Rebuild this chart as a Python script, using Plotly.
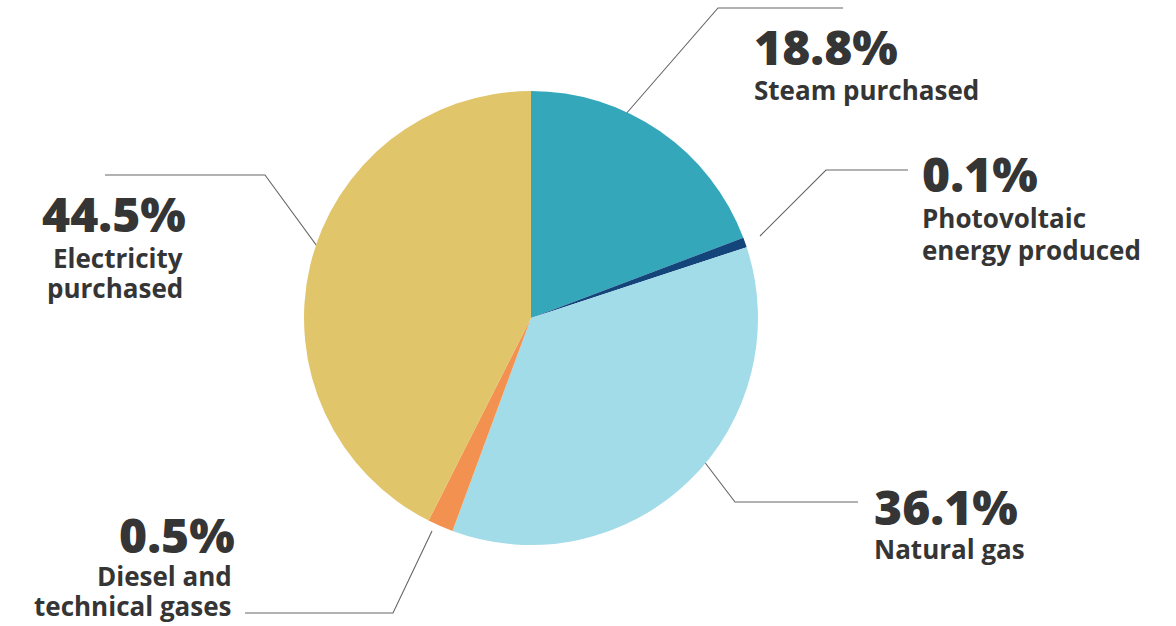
import plotly.graph_objects as go

# ---- data ----
categories = ["Steam purchased", "Photovoltaic energy produced", "Natural gas",
              "Diesel and technical gases", "Electricity purchased"]
label_lines = [["Steam purchased"], ["Photovoltaic", "energy produced"], ["Natural gas"],
               ["Diesel and", "technical gases"], ["Electricity", "purchased"]]
reported_pct = ["18.8%", "0.1%", "36.1%", "0.5%", "44.5%"]
# slice sizes as drawn in the picture
drawn_share = [19.25, 0.7, 35.67, 1.83, 42.55]
colors = ["#35A7BB", "#13447A", "#A2DCE8", "#F39250", "#E1C56A"]

W, H = 1176, 626
cx, cy, r = 531, 318, 227

fig = go.Figure()
fig.add_trace(go.Pie(
    labels=categories, values=drawn_share, sort=False, direction="clockwise",
    rotation=0, textinfo="none", hoverinfo="label+percent",
    marker=dict(colors=colors, line=dict(width=0)),
    domain=dict(x=[(cx - r) / W, (cx + r) / W], y=[1 - (cy + r) / H, 1 - (cy - r) / H]),
    showlegend=False,
))

# leader lines (layout, pixel coords)
leaders = [
    [(612, 130), (718, 8), (843, 8)],
    [(760, 236), (826, 170), (908, 170)],
    [(665, 410), (735, 502), (858, 502)],
    [(432, 531), (393, 613), (245, 613)],
    [(333, 268), (265, 175), (105, 175)],
]
for pts in leaders:
    fig.add_trace(go.Scatter(x=[p[0] for p in pts], y=[p[1] for p in pts], mode="lines",
                             line=dict(color="#666666", width=1.1), hoverinfo="skip",
                             showlegend=False))

# label placements: x, anchor, pct baseline, label line baselines
placements = [
    (752, "left", 65, [99]),
    (920, "left", 192, [227, 259]),
    (872, "left", 525, [558]),
    (237, "right", 553, [585, 615]),
    (188, "right", 232, [267, 297]),
]
txt_color = "#353535"
PCT_SIZE, LBL_SIZE = 48, 26
annotations = []
for (x, anc, yb, lbs), pct, lines in zip(placements, reported_pct, label_lines):
    annotations.append(dict(x=x, y=yb + 0.33 * PCT_SIZE, xref="x", yref="y", text=pct,
                            showarrow=False, xanchor=anc, yanchor="bottom", align=anc,
                            font=dict(family="Open Sans", size=PCT_SIZE, color=txt_color, weight=800)))
    for lb, line in zip(lbs, lines):
        annotations.append(dict(x=x - (3 if anc == "right" else 0), y=lb - 1.1 * LBL_SIZE,
                                xref="x", yref="y", text=line,
                                showarrow=False, xanchor=anc, yanchor="top", align=anc,
                                font=dict(family="Open Sans", size=LBL_SIZE, color=txt_color, weight=700)))

fig.update_layout(
    width=W, height=H, margin=dict(l=0, r=0, t=0, b=0),
    paper_bgcolor="white", plot_bgcolor="rgba(0,0,0,0)",
    xaxis=dict(range=[0, W], visible=False, fixedrange=True),
    yaxis=dict(range=[H, 0], visible=False, fixedrange=True),
    annotations=annotations,
)
fig.write_html("out.html", config={"displayModeBar": False},
               post_script="document.body.style.margin='0';document.body.style.overflow='hidden';")
